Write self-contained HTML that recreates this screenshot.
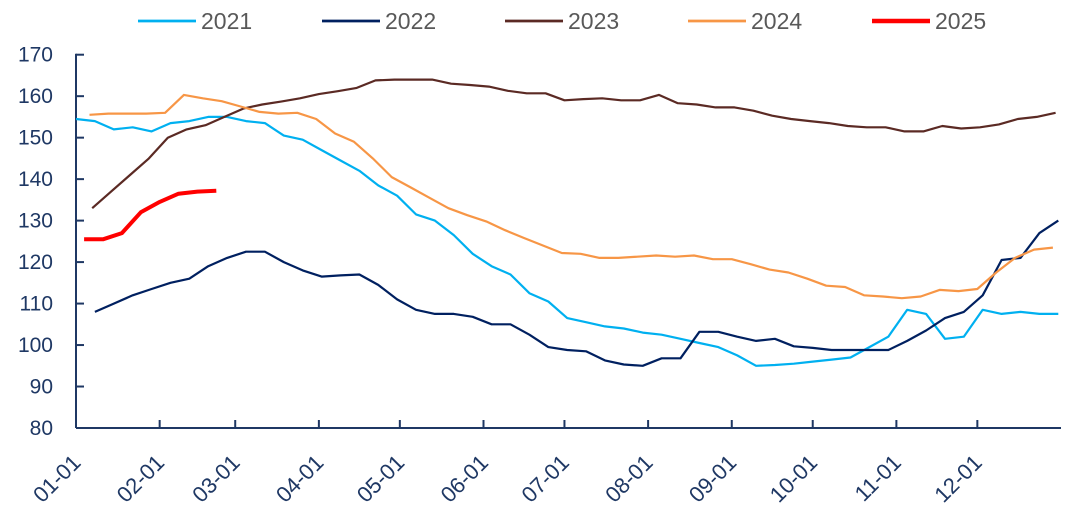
<!DOCTYPE html>
<html><head><meta charset="utf-8"><style>
body{margin:0;background:#fff;}
svg{display:block;font-family:"Liberation Sans",sans-serif;}
</style></head><body>
<svg id="chart" width="1080" height="522"></svg>
<script>
const years=["2021","2022","2023","2024","2025"];
const colors=["#00b0f0","#002060","#5b2a24","#f79646","#ff0000"];
const widths=[2.2,2.2,2.2,2.2,4];
const startDays=[0,7,6,5,3];
const s2021=[154.5,154,152,152.5,151.5,153.5,154,155,155,154,153.5,150.5,149.5,147,144.5,142,138.5,136,131.5,130,126.5,122,119,117,112.5,110.5,106.5,105.5,104.5,104,103,102.5,101.5,100.5,99.5,97.5,95,95.2,95.5,96,96.5,97,99.5,102,108.5,107.5,101.5,102,108.5,107.5,108,107.5,107.5];
const s2022=[108,110,112,113.5,115,116,119,121,122.5,122.5,120,118,116.5,116.8,117,114.5,111,108.5,107.5,107.5,106.8,105,105,102.5,99.5,98.8,98.5,96.3,95.3,95,96.8,96.8,103.2,103.2,102,101,101.5,99.7,99.3,98.8,98.8,98.8,98.8,101,103.5,106.5,108,112,120.5,121,127,130];
const s2023=[133,137,141,145,150,152,153,155,157,158,158.7,159.5,160.5,161.2,162,163.8,164,164,164,163,162.7,162.3,161.3,160.7,160.7,159,159.3,159.5,159,159,160.3,158.3,158,157.3,157.3,156.5,155.3,154.5,154,153.5,152.8,152.5,152.5,151.5,151.5,152.8,152.2,152.5,153.2,154.5,155,156];
const s2024=[155.5,155.8,155.8,155.8,156,160.3,159.5,158.8,157.5,156.2,155.8,156,154.5,151,149,145,140.5,138,135.5,133,131.3,129.8,127.7,125.8,124,122.2,122,121,121,121.3,121.6,121.3,121.6,120.7,120.7,119.5,118.2,117.5,116,114.3,114,112,111.7,111.3,111.7,113.3,113,113.5,117.5,121,123,123.5];
const s2025=[125.5,125.5,127,132,134.5,136.5,137,137.2];
const yTicks=[80,90,100,110,120,130,140,150,160,170];
const xLabels=["01-01","02-01","03-01","04-01","05-01","06-01","07-01","08-01","09-01","10-01","11-01","12-01"];
const monthDays=[0,31,59,90,120,151,181,212,243,273,304,334];
const series=[s2021,s2022,s2023,s2024,s2025];

const NS="http://www.w3.org/2000/svg";
const svg=document.getElementById("chart");
const X0=76,X1=1061,Y0=428,Y1=54.7;
const xDay=d=>X0+d*(X1-X0)/365;
const yVal=v=>Y0-(v-80)*(Y0-Y1)/90;
function mk(tag,attrs,parent){const e=document.createElementNS(NS,tag);for(const k in attrs)e.setAttribute(k,attrs[k]);(parent||svg).appendChild(e);return e;}
const AX="#1f3864";
let a=mk("line",{x1:X0,y1:Y1-1,x2:X0,y2:Y0,stroke:AX,"stroke-width":2});


a=mk("line",{x1:X0,y1:Y0,x2:X1,y2:Y0,stroke:AX,"stroke-width":2});


yTicks.forEach(v=>{
  const y=yVal(v);
  const t=mk("line",{x1:X0,y1:y,x2:X0+8,y2:y,stroke:AX,"stroke-width":2});
  
  
  const l=mk("text",{x:53,y:y+7,"text-anchor":"end","font-size":21,fill:AX});
  l.textContent=v;
  
  
});
xLabels.forEach((lab,i)=>{
  const x=xDay(monthDays[i]);
  if(i>0){const t=mk("line",{x1:x,y1:Y0,x2:x,y2:Y0-8,stroke:AX,"stroke-width":2});
  
  }
  const l=mk("text",{x:x+6,y:Y0+36,"text-anchor":"end","font-size":22,fill:AX,transform:`rotate(-45 ${x+6} ${Y0+36})`});
  l.textContent=lab;
  
  
});
series.forEach((s,k)=>{
  const pts=s.map((v,i)=>xDay(startDays[k]+7*i).toFixed(1)+","+yVal(v).toFixed(1)).join(" ");
  const p=mk("polyline",{points:pts,fill:"none",stroke:colors[k],"stroke-width":widths[k],"stroke-linejoin":"round"});
  
  
});
const legX=[138,322,505,688,872];
years.forEach((y,k)=>{
  const g=mk("g",{});
  
  
  mk("line",{x1:legX[k],y1:21,x2:legX[k]+58,y2:21,stroke:colors[k],"stroke-width":widths[k]+0.5},g);
  const t=mk("text",{x:legX[k]+63,y:29,"font-size":23,fill:"#595959"},g);
  t.textContent=y;
});
</script>
</body></html>
